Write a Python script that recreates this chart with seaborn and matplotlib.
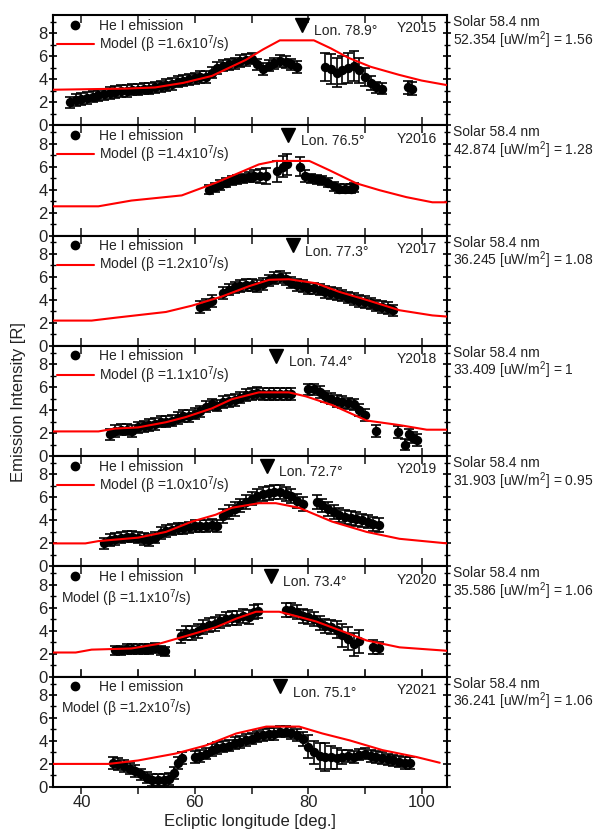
import numpy as np
import pandas as pd
import matplotlib
matplotlib.use("Agg")
import matplotlib.pyplot as plt
from matplotlib.lines import Line2D
from matplotlib.ticker import MultipleLocator
import seaborn as sns

# ---------------- data ----------------
years = [2015, 2016, 2017, 2018, 2019, 2020, 2021]
betas = ["1.6", "1.4", "1.2", "1.1", "1.0", "1.1", "1.2"]
peak_lon = [78.9, 76.5, 77.3, 74.4, 72.7, 73.4, 75.1]
solar_flux = ["52.354", "42.874", "36.245", "33.409", "31.903", "35.586", "36.241"]
solar_ratio = ["1.56", "1.28", "1.08", "1", "0.95", "1.06", "1.06"]

lon_2015 = [38, 39, 40, 41, 42, 43, 44, 45, 46, 47, 48, 49, 50, 51, 52, 53, 54, 55, 56, 57,
            58, 59, 60, 61, 62, 63, 64, 65, 66, 67, 68, 69, 70, 71, 72, 73, 74, 75, 76, 77, 78,
            83, 84, 85, 86, 87, 88, 89, 90, 91, 92, 93, 97.6, 98.3]
int_2015 = [2.0, 2.2, 2.3, 2.4, 2.5, 2.6, 2.7, 2.8, 2.9, 3.0, 3.0, 3.1, 3.1, 3.2, 3.2, 3.3, 3.4, 3.5, 3.6, 3.8,
            3.9, 4.0, 4.1, 4.2, 4.2, 4.6, 5.0, 5.2, 5.3, 5.4, 5.6, 5.7, 5.8, 5.3, 4.9, 5.2, 5.4, 5.6, 5.5, 5.3, 5.1,
            5.1, 4.9, 4.6, 4.8, 5.0, 5.2, 4.8, 4.2, 3.7, 3.3, 3.2, 3.3, 3.2]
err_2015 = [0.5, 0.5, 0.5, 0.5, 0.5, 0.5, 0.5, 0.5, 0.5, 0.5, 0.5, 0.5, 0.5, 0.5, 0.5, 0.5, 0.5, 0.5, 0.5, 0.5,
            0.5, 0.5, 0.5, 0.5, 0.5, 0.5, 0.5, 0.5, 0.5, 0.5, 0.5, 0.5, 0.5, 0.5, 0.5, 0.5, 0.5, 0.5, 0.5, 0.5, 0.5,
            1.2, 1.3, 1.3, 1.2, 1.3, 1.3, 1.1, 0.8, 0.6, 0.5, 0.5, 0.6, 0.6]
mlon_2015 = [35, 48, 53, 58, 63, 66, 69, 72, 75, 81, 84, 87, 91, 96, 100, 104.5]
model_2015 = [3.1, 3.2, 3.3, 3.7, 4.3, 5.0, 5.7, 6.6, 7.4, 7.4, 6.7, 5.9, 5.1, 4.4, 3.9, 3.5]

lon_2016 = [62.5, 63.5, 64.5, 65.5, 66.5, 67.5, 68.5, 69.5, 70.5, 71.5, 72.5, 74.5, 75.5, 76.3,
            78.5, 79.5, 80.5, 81.5, 82.5, 83.5, 84.5, 85.5, 86.5, 87.5, 88.0]
int_2016 = [4.0, 4.2, 4.4, 4.6, 4.8, 4.9, 5.0, 5.1, 5.2, 5.2, 5.2, 5.6, 6.0, 6.2,
            6.0, 5.2, 5.0, 4.9, 4.8, 4.6, 4.3, 4.1, 4.1, 4.1, 4.2]
err_2016 = [0.4, 0.4, 0.4, 0.4, 0.4, 0.4, 0.4, 0.4, 0.5, 0.6, 0.7, 0.9, 0.9, 0.9,
            0.8, 0.5, 0.4, 0.4, 0.4, 0.4, 0.4, 0.4, 0.4, 0.4, 0.4]
mlon_2016 = [35, 43, 48.8, 57.7, 63.7, 71.3, 74.3, 80.2, 83.7, 88.5, 92.6, 97.3, 101.9, 104.5]
model_2016 = [2.55, 2.55, 3.05, 3.5, 4.6, 6.2, 6.5, 6.5, 5.7, 4.55, 3.95, 3.35, 2.9, 2.9]

lon_2017 = [61, 62, 63, 65, 66, 67, 68, 69, 70, 71, 72, 73, 74, 75, 76, 77, 78, 79, 80,
            81, 82, 83, 84, 85, 86, 87, 88, 89, 90, 91, 92, 93, 94, 95]
int_2017 = [3.4, 3.6, 3.9, 4.6, 4.9, 5.1, 5.2, 5.3, 5.3, 5.2, 5.4, 5.7, 5.9, 6.0, 5.8, 5.5, 5.3, 5.2, 5.0,
            5.0, 4.9, 4.7, 4.6, 4.5, 4.4, 4.2, 4.1, 3.9, 3.8, 3.7, 3.5, 3.4, 3.3, 3.1]
err_2017 = [0.5, 0.5, 0.5, 0.5, 0.5, 0.5, 0.5, 0.5, 0.5, 0.5, 0.5, 0.5, 0.5, 0.5, 0.5, 0.5, 0.5, 0.5, 0.5,
            0.5, 0.5, 0.5, 0.5, 0.5, 0.5, 0.5, 0.5, 0.5, 0.5, 0.5, 0.5, 0.5, 0.5, 0.5]
mlon_2017 = [35, 41.8, 46, 54.9, 59.5, 64.8, 69.6, 73.1, 76.6, 81.4, 85.5, 90.3, 96.1, 101.9, 104.5]
model_2017 = [2.2, 2.2, 2.45, 2.95, 3.5, 4.3, 5.2, 5.75, 5.8, 5.45, 4.7, 4.0, 3.1, 2.65, 2.55]

lon_2018 = [45, 46, 47, 48, 49, 50, 51, 52, 53, 54, 55, 56, 57, 58, 59, 60, 61, 62, 63, 64, 65,
            66, 67, 68, 69, 70, 71, 72, 73, 74, 75, 76, 77, 80, 81, 82, 83, 84, 85, 86, 87, 88,
            89, 90, 92, 95.8, 97, 97.8, 98.5, 99.2]
int_2018 = [1.9, 2.2, 2.3, 2.3, 2.2, 2.5, 2.6, 2.7, 2.8, 3.0, 3.0, 3.1, 3.3, 3.5, 3.5, 3.7, 3.9, 4.3, 4.5, 4.4, 4.7,
            4.8, 4.9, 5.1, 5.3, 5.4, 5.5, 5.4, 5.4, 5.4, 5.4, 5.4, 5.4, 5.8, 5.8, 5.6, 5.2, 5.0, 4.8, 4.7, 4.6, 4.5,
            4.0, 3.6, 2.2, 2.1, 1.0, 1.9, 1.6, 1.4]
err_2018 = [0.5, 0.5, 0.5, 0.5, 0.5, 0.5, 0.5, 0.5, 0.5, 0.5, 0.5, 0.5, 0.5, 0.5, 0.5, 0.5, 0.5, 0.5, 0.5, 0.5, 0.5,
            0.5, 0.5, 0.5, 0.5, 0.5, 0.5, 0.5, 0.5, 0.5, 0.5, 0.5, 0.5, 0.5, 0.5, 0.5, 0.5, 0.5, 0.5, 0.5, 0.5, 0.5,
            0.5, 0.5, 0.5, 0.5, 0.5, 0.5, 0.5, 0.5]
mlon_2018 = [35, 43, 46, 50, 54.9, 58.4, 63, 66.5, 71.3, 76.6, 79.6, 84.2, 90.3, 96.1, 100.9, 104.5]
model_2018 = [2.15, 2.15, 2.4, 2.5, 2.95, 3.4, 4.15, 4.95, 5.55, 5.55, 5.2, 4.45, 3.1, 2.7, 2.3, 2.3]

lon_2019 = [44, 45, 46, 47, 48, 49, 50, 51, 52, 53, 54, 55, 56, 57, 58, 59, 60, 61, 62, 63, 64,
            65, 66, 67, 68, 69, 70, 71, 72, 73, 74, 75, 76, 77, 78, 79,
            81.5, 82.5, 83.5, 84.5, 85.5, 86.5, 87.5, 88.5, 89.5, 90.5, 91.5, 92.5]
int_2019 = [2.0, 2.3, 2.4, 2.5, 2.6, 2.6, 2.5, 2.4, 2.3, 2.5, 2.9, 3.1, 3.2, 3.3, 3.3, 3.4, 3.5, 3.5, 3.5, 3.6, 3.5,
            4.4, 4.7, 5.0, 5.3, 5.6, 5.9, 6.1, 6.3, 6.4, 6.5, 6.5, 6.3, 6.1, 5.7, 5.4,
            5.6, 5.3, 5.0, 4.7, 4.5, 4.3, 4.2, 4.1, 4.0, 3.9, 3.7, 3.6]
err_2019 = [0.5, 0.5, 0.5, 0.5, 0.5, 0.5, 0.5, 0.5, 0.5, 0.5, 0.5, 0.5, 0.5, 0.5, 0.5, 0.5, 0.5, 0.5, 0.5, 0.5, 0.5,
            0.6, 0.6, 0.6, 0.6, 0.6, 0.6, 0.6, 0.6, 0.6, 0.6, 0.6, 0.6, 0.6, 0.6, 0.6,
            0.6, 0.6, 0.6, 0.6, 0.6, 0.6, 0.6, 0.6, 0.6, 0.6, 0.6, 0.6]
mlon_2019 = [35, 40.7, 43, 50, 54.9, 59.5, 63.7, 66.5, 71.3, 74.3, 78.4, 84.2, 90.3, 96.1, 104.5]
model_2019 = [2.0, 2.0, 2.2, 2.5, 3.0, 3.9, 4.5, 5.1, 5.5, 5.5, 5.1, 3.9, 3.0, 2.4, 2.0]

lon_2020 = [46, 47, 48, 49, 50, 51, 52, 53, 54, 54.8, 57.5, 58.5, 59.5, 60.5, 61.5, 62.5, 63.5,
            64.5, 65.5, 66.5, 67.5, 68.5, 69.5, 70.5, 71.2, 76, 77, 78, 79, 80, 81, 82, 83, 84,
            85, 86, 87, 88, 89, 91.5, 92.5]
int_2020 = [2.3, 2.3, 2.4, 2.4, 2.4, 2.4, 2.4, 2.5, 2.3, 2.2, 3.5, 3.8, 3.8, 4.0, 4.3, 4.5, 4.6,
            4.8, 5.0, 5.1, 5.1, 5.3, 5.2, 5.6, 5.7, 5.8, 5.8, 5.6, 5.3, 5.2, 5.0, 4.7, 4.4, 4.3,
            4.1, 3.6, 3.3, 2.8, 3.1, 2.6, 2.5]
err_2020 = [0.4, 0.4, 0.4, 0.4, 0.4, 0.4, 0.4, 0.4, 0.4, 0.4, 0.6, 0.6, 0.6, 0.6, 0.6, 0.6, 0.6,
            0.6, 0.6, 0.6, 0.6, 0.6, 0.6, 0.6, 0.6, 0.6, 0.6, 0.6, 0.6, 0.6, 0.6, 0.6, 0.6, 0.6,
            0.7, 1.0, 1.0, 1.0, 1.0, 0.6, 0.5]
mlon_2020 = [35, 39, 41.8, 48.8, 53.6, 58.9, 63.7, 67.3, 70.8, 74.9, 78.4, 81.4, 85.5, 90.3, 96.1, 104.5]
model_2020 = [2.1, 2.1, 2.35, 2.45, 2.85, 3.6, 4.3, 5.05, 5.65, 5.65, 5.2, 4.8, 4.05, 3.15, 2.55, 2.25]

lon_2021 = [45.5, 46.5, 47.5, 48.5, 49.5, 50.5, 51.5, 52.5, 53.5, 54.5, 55.5, 56.3, 57, 57.7,
            60, 61, 62, 63, 64, 65, 66, 67, 68, 69, 70, 71, 72, 73, 74, 75, 76, 77, 78, 79,
            80, 81, 82, 83, 84, 85, 86, 87, 88, 89, 90, 91, 92, 93, 94, 95, 96, 97, 98]
int_2021 = [2.1, 2.0, 1.8, 1.6, 1.4, 1.1, 0.8, 0.6, 0.6, 0.6, 0.7, 1.2, 2.1, 2.5,
            2.6, 2.7, 2.9, 3.2, 3.4, 3.5, 3.6, 3.8, 3.9, 4.1, 4.2, 4.4, 4.5, 4.6, 4.6, 4.8, 4.8, 4.7, 4.5, 4.2,
            3.5, 3.0, 2.7, 2.6, 2.6, 2.5, 2.6, 2.7, 2.6, 2.8, 2.9, 2.7, 2.6, 2.5, 2.4, 2.3, 2.2, 2.1, 2.1]
err_2021 = [0.5, 0.5, 0.5, 0.5, 0.5, 0.5, 0.5, 0.5, 0.5, 0.5, 0.5, 0.5, 0.5, 0.5,
            0.5, 0.5, 0.5, 0.5, 0.5, 0.5, 0.5, 0.5, 0.5, 0.5, 0.5, 0.5, 0.5, 0.5, 0.5, 0.5, 0.5, 0.5, 0.5, 0.6,
            1.0, 1.0, 1.1, 1.2, 1.0, 0.9, 0.6, 0.5, 0.5, 0.5, 0.5, 0.5, 0.5, 0.5, 0.5, 0.5, 0.5, 0.5, 0.5]
mlon_2021 = [35, 44.8, 50, 56.6, 61.9, 67.3, 72.6, 78.4, 82.5, 87.3, 93.1, 99.1, 103.2]
model_2021 = [2.0, 2.0, 2.3, 2.9, 3.6, 4.65, 5.25, 5.25, 4.65, 4.05, 3.2, 2.6, 2.1]

obs = {
    2015: (lon_2015, int_2015, err_2015, mlon_2015, model_2015),
    2016: (lon_2016, int_2016, err_2016, mlon_2016, model_2016),
    2017: (lon_2017, int_2017, err_2017, mlon_2017, model_2017),
    2018: (lon_2018, int_2018, err_2018, mlon_2018, model_2018),
    2019: (lon_2019, int_2019, err_2019, mlon_2019, model_2019),
    2020: (lon_2020, int_2020, err_2020, mlon_2020, model_2020),
    2021: (lon_2021, int_2021, err_2021, mlon_2021, model_2021),
}

# ---------------- style ----------------
sns.set_theme(style="ticks")
plt.rcParams['font.family'] = ['Liberation Sans', 'DejaVu Sans']
plt.rcParams['mathtext.fontset'] = 'custom'
plt.rcParams['mathtext.rm'] = 'Liberation Sans'
plt.rcParams['mathtext.it'] = 'Liberation Sans'
TXT = '#222222'

fig = plt.figure(figsize=(6.1, 8.38), dpi=100)
axes = fig.subplots(7, 1, sharex=True, gridspec_kw=dict(hspace=0))
fig.subplots_adjust(left=0.087, right=0.733, top=0.982, bottom=0.061)

for i, (ax, yr) in enumerate(zip(axes, years)):
    lon, val, err, mlon, mval = obs[yr]
    df = pd.DataFrame({"lon": lon, "val": val, "err": err})
    mdf = pd.DataFrame({"lon": mlon, "val": mval})

    sns.lineplot(data=mdf, x="lon", y="val", ax=ax, color="#ff0000", lw=1.5,
                 legend=False, zorder=4)
    ax.errorbar(df["lon"], df["val"], yerr=df["err"], fmt="none", ecolor="black",
                elinewidth=1.2, capsize=3.4, capthick=1.2, zorder=2)
    sns.scatterplot(data=df, x="lon", y="val", ax=ax, color="black", s=46,
                    linewidth=0, legend=False, zorder=3)

    # arrow marking the peak longitude
    ax.plot([peak_lon[i]], [8.75], marker="v", ms=10, color="black", ls="none", zorder=5)
    ax.annotate(f"Lon. {peak_lon[i]}°", xy=(peak_lon[i], 8.2), xytext=(9, 0),
                textcoords="offset points", ha="left", va="center", fontsize=10, color=TXT)
    ax.text(0.975, 0.88, f"Y{yr}", transform=ax.transAxes, ha="right", va="center",
            fontsize=10, color=TXT)

    # right-hand solar flux text
    ax.text(1.015, 1.0, f"Solar 58.4 nm\n{solar_flux[i]} [uW/m$^2$] = {solar_ratio[i]}",
            transform=ax.transAxes, ha="left", va="top", fontsize=10, color=TXT,
            linespacing=1.0)

    # legend
    model_label = f"Model (β =${betas[i]}$x10$^7$/s)"
    h_obs = Line2D([], [], marker="o", ms=6, color="black", ls="none")
    if yr < 2020:
        h_mod = Line2D([], [], color="#ff0000", lw=1.5)
        leg = ax.legend([h_obs, h_mod], ["He I emission", model_label], loc="upper left",
                        frameon=False, fontsize=10, borderaxespad=0.0, borderpad=0.25,
                        handlelength=2.7, handletextpad=0.35, labelspacing=0.05)
    else:
        leg = ax.legend([h_obs], ["He I emission"], loc="upper left",
                        frameon=False, fontsize=10, borderaxespad=0.0, borderpad=0.25,
                        handlelength=2.7, handletextpad=0.35)
        ax.text(0.02, 0.71, model_label, transform=ax.transAxes, ha="left", va="center",
                fontsize=10, color=TXT)
    for t in leg.get_texts():
        t.set_color(TXT)

    ax.set_xlim(35, 104.5)
    ax.set_ylim(0, 9.6)
    ax.set_yticks([0, 2, 4, 6, 8])
    ax.yaxis.set_minor_locator(MultipleLocator(1))
    ax.xaxis.set_major_locator(MultipleLocator(20))
    ax.xaxis.set_minor_locator(MultipleLocator(10))
    ax.set_xlabel("")
    ax.set_ylabel("")
    ax.tick_params(axis="y", which="both", direction="inout", left=True, right=True,
                   labelsize=12, colors="black", labelcolor=TXT, pad=1)
    ax.tick_params(axis="y", which="major", length=6, width=1.2)
    ax.tick_params(axis="y", which="minor", length=4, width=1.0)
    ax.tick_params(axis="x", which="both", direction="in", top=True, bottom=True,
                   length=6, width=1.2, labelsize=12, labelcolor=TXT)
    for s in ax.spines.values():
        s.set_visible(True)
        s.set_linewidth(1.5)
        s.set_color("black")

axes[-1].tick_params(axis="x", which="both", direction="out", length=5, pad=1)
axes[-1].set_xlabel("Ecliptic longitude [deg.]", fontsize=12, color=TXT, labelpad=3)
fig.text(0.03, 0.52, "Emission Intensity [R]", rotation=90, ha="center", va="center",
         fontsize=12, color=TXT)

fig.savefig("out.png", dpi=100)
